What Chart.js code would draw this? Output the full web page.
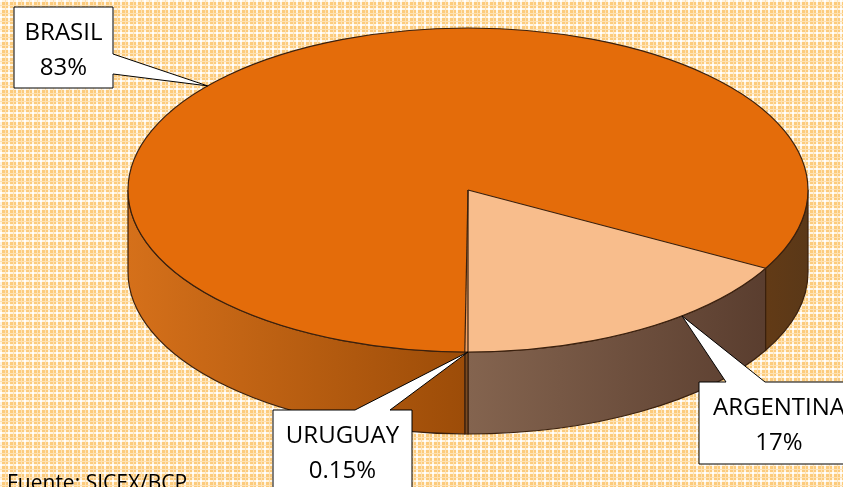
<!DOCTYPE html>
<html>
<head>
<meta charset="utf-8">
<script src="https://cdn.jsdelivr.net/npm/chart.js@4.4.1/dist/chart.umd.min.js"></script>
<style>
  html, body { margin: 0; padding: 0; }
  body {
    width: 843px; height: 487px; overflow: hidden;
    background-color: #fcd28c;
    background-image: url("data:image/svg+xml,%3Csvg xmlns='http://www.w3.org/2000/svg' width='8' height='8' shape-rendering='crispEdges'%3E%3Crect width='8' height='8' fill='%23FCCB7C'/%3E%3Crect width='2' height='8' fill='%23FFF4E2'/%3E%3Crect width='8' height='2' fill='%23FFF4E2'/%3E%3Crect x='5' width='1' height='8' fill='%23FEE2B4'/%3E%3Crect y='5' width='8' height='1' fill='%23FEE2B4'/%3E%3Crect width='2' height='2' fill='%23FFFFFF'/%3E%3C/svg%3E");
  }
</style>
</head>
<body>
<canvas id="myChart" width="843" height="487"></canvas>
<script>
// data
const labels = ['ARGENTINA', 'URUGUAY', 'BRASIL'];
const shares = [17, 0.15, 83];
const shareLabels = ['17%', '0.15%', '83%'];
const topColors = ['#F8BD8C', '#F0A060', '#E46C0A'];

// 3d look of the pie (top ellipse + depth)
const CX = 468, CY = 190, RX = 340, RY = 162, DEPTH = 82;

// put the end of ARGENTINA at the front (6 o'clock)
const total = shares.reduce((a, b) => a + b, 0);
const startRotation = 180 - shares[0] / total * 360;

// callouts: box, where the pointer leaves the box, angle on the pie it points to
const callouts = [
  { i: 2, box: [14, 7, 99, 81], side: 'right', base: [54, 74], angle: 220 },
  { i: 1, box: [273, 410, 139, 95], side: 'top', base: [355, 390], angle: 90 },
  { i: 0, box: [699, 382, 160, 82], side: 'top', base: [726, 765], angle: 51 }
];

function ept(a, dy) {
  return [CX + RX * Math.cos(a), CY + (dy || 0) + RY * Math.sin(a)];
}

function sideFill(ctx, i) {
  let g = ctx.createLinearGradient(CX - RX, 0, CX + RX, 0);
  if (i === 0) {
    g = ctx.createLinearGradient(CX, 0, CX + RX, 0);
    g.addColorStop(0, '#84644F');
    g.addColorStop(1, '#54382A');
  } else if (i === 1) {
    g.addColorStop(0, '#7A4A20');
    g.addColorStop(1, '#7A4A20');
  } else {
    g.addColorStop(0, '#D5701A');
    g.addColorStop(0.5, '#9C4C08');
    g.addColorStop(1, '#5A3818');
  }
  return g;
}

const pie3d = {
  id: 'pie3d',
  beforeDatasetsDraw(chart) {
    const ctx = chart.ctx;
    const arcs = chart.getDatasetMeta(0).data;
    ctx.save();
    ctx.strokeStyle = '#3A200E';
    ctx.lineWidth = 1.2;
    arcs.forEach((arc, i) => {
      [-2 * Math.PI, 0, 2 * Math.PI].forEach(k => {
        const b1 = Math.max(arc.startAngle, k);
        const b2 = Math.min(arc.endAngle, k + Math.PI);
        if (b2 <= b1) return;
        const p = ept(b1);
        ctx.beginPath();
        ctx.moveTo(p[0], p[1]);
        ctx.ellipse(CX, CY, RX, RY, 0, b1, b2);
        ctx.ellipse(CX, CY + DEPTH, RX, RY, 0, b2, b1, true);
        ctx.closePath();
        ctx.fillStyle = sideFill(ctx, i);
        ctx.fill();
        ctx.stroke();
      });
    });
    ctx.restore();
    // squash the library's round pie into the top ellipse
    const a = arcs[0];
    ctx.save();
    ctx.translate(CX, CY);
    ctx.scale(RX / a.outerRadius, RY / a.outerRadius);
    ctx.translate(-a.x, -a.y);
  },
  afterDatasetsDraw(chart) {
    const ctx = chart.ctx;
    const arcs = chart.getDatasetMeta(0).data;
    ctx.restore();

    // outlines of the top
    ctx.save();
    ctx.strokeStyle = '#3A200E';
    ctx.lineWidth = 1.2;
    ctx.beginPath();
    ctx.ellipse(CX, CY, RX, RY, 0, 0, 2 * Math.PI);
    ctx.stroke();
    arcs.forEach(arc => {
      const p = ept(arc.startAngle);
      ctx.beginPath();
      ctx.moveTo(CX, CY);
      ctx.lineTo(p[0], p[1]);
      ctx.stroke();
    });
    ctx.restore();

    // callouts
    ctx.save();
    ctx.font = '24px "Open Sans"';
    callouts.forEach(c => {
      const [x, y, w, h] = c.box;
      const tip = ept(c.angle * Math.PI / 180);
      ctx.beginPath();
      if (c.side === 'right') {
        ctx.moveTo(x, y);
        ctx.lineTo(x + w, y);
        ctx.lineTo(x + w, c.base[0]);
        ctx.lineTo(tip[0], tip[1]);
        ctx.lineTo(x + w, c.base[1]);
        ctx.lineTo(x + w, y + h);
        ctx.lineTo(x, y + h);
      } else {
        ctx.moveTo(x, y);
        ctx.lineTo(c.base[0], y);
        ctx.lineTo(tip[0], tip[1]);
        ctx.lineTo(c.base[1], y);
        ctx.lineTo(x + w, y);
        ctx.lineTo(x + w, y + h);
        ctx.lineTo(x, y + h);
      }
      ctx.closePath();
      ctx.fillStyle = '#FFFFFF';
      ctx.fill();
      ctx.strokeStyle = '#000000';
      ctx.lineWidth = 1;
      ctx.stroke();

      ctx.fillStyle = '#000000';
      ctx.textAlign = 'center';
      ctx.textBaseline = 'alphabetic';
      const mx = x + w / 2;
      ctx.fillText(labels[c.i], mx, y + 33);
      ctx.fillText(shareLabels[c.i], mx, y + 68);
    });

    ctx.font = '21px "Open Sans"';
    ctx.textAlign = 'left';
    ctx.fillText('Fuente: SICEX/BCP', 7, 490);
    ctx.restore();
  }
};

const config = {
  type: 'pie',
  data: {
    labels: labels,
    datasets: [{
      data: shares,
      backgroundColor: topColors,
      borderWidth: 0,
      clip: false
    }]
  },
  options: {
    responsive: false,
    animation: false,
    events: [],
    rotation: startRotation,
    plugins: {
      legend: { display: false },
      tooltip: { enabled: false }
    }
  },
  plugins: [pie3d]
};

const myChart = new Chart(document.getElementById('myChart'), config);
</script>
</body>
</html>
